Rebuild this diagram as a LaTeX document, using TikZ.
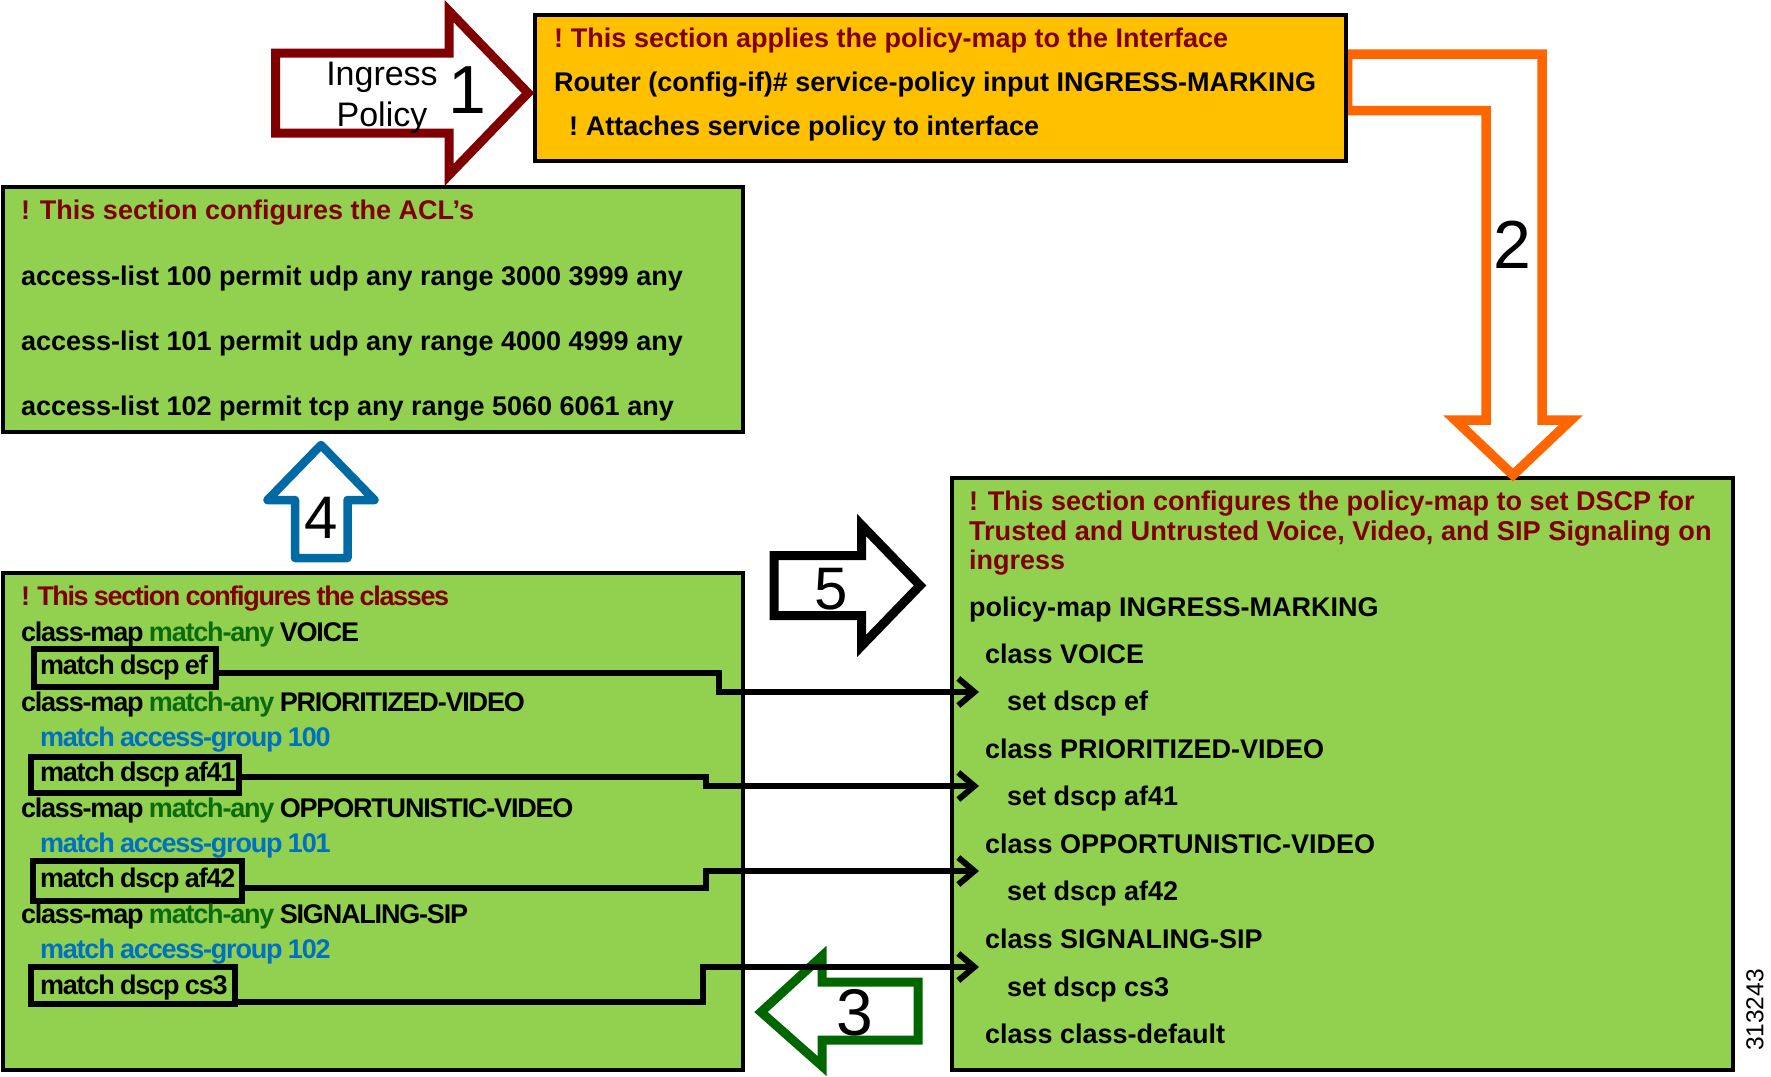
\documentclass[tikz,border=0pt]{standalone}
\usepackage{fontspec}
\setmainfont{Liberation Sans}
\newfontfamily\tightfont{Liberation Sans}[LetterSpace=-4.4,WordSpace=0.85]
\newfontfamily\tighterfont{Liberation Sans}[LetterSpace=-5.0,WordSpace=0.85]
\usetikzlibrary{arrows.meta}
\definecolor{panelgreen}{HTML}{92D050}
\definecolor{panelamber}{HTML}{FFC000}
\definecolor{headred}{HTML}{800000}
\definecolor{arroworange}{HTML}{FF6600}
\definecolor{arrowgreen}{HTML}{006600}
\definecolor{arrowblue}{HTML}{006AA5}
\definecolor{anygreen}{HTML}{0B6B0B}
\definecolor{groupblue}{HTML}{0070C0}
\tikzset{
  panel/.style={draw=black,line width=4pt,inner sep=0pt,outer sep=0pt},
  codeline/.style={anchor=base west,inner sep=0pt,outer sep=0pt,font=\fontsize{27}{32}\selectfont\bfseries},
  tightline/.style={anchor=base west,inner sep=0pt,outer sep=0pt,font=\fontsize{27}{32}\selectfont\tightfont\bfseries},
  headline/.style={codeline,text=headred},
  tighthead/.style={anchor=base west,inner sep=0pt,outer sep=0pt,font=\fontsize{27}{32}\selectfont\tighterfont\bfseries,text=headred},
  groupline/.style={tightline,text=groupblue},
  matchbox/.style={draw=black,line width=6pt,inner xsep=6pt,inner ysep=0pt,outer sep=0pt,
    font=\fontsize{27}{32}\selectfont\tightfont\bfseries,text height=19pt,text depth=6pt},
  bigarrow/.style={line width=#1,fill=white,miter limit=12,line join=miter},
  digit/.style={inner sep=0pt,anchor=base,font=\fontsize{#1}{#1}\selectfont},
  mapline/.style={draw=black,line width=6pt,line join=miter,-{Straight Barb[length=16pt,width=27pt,line width=6pt]}}
}
\newcommand{\anymatch}[1]{class-map \textcolor{anygreen}{match-any} #1}
\newcommand{\boxtext}[3]{\makebox[#1pt][l]{\hspace{#2pt}#3}}
\begin{document}
\begin{tikzpicture}[x=1pt,y=-1pt]
\useasboundingbox[fill=white] (0,0) rectangle (1771,1076);

% panels
\node[panel,fill=panelgreen,minimum width=740pt,minimum height=245pt] (acl) at (372.5,309.5) {};
\node[panel,fill=panelgreen,minimum width=740pt,minimum height=497pt] (classes) at (372.5,821) {};
\node[panel,fill=panelgreen,minimum width=781pt,minimum height=592pt] (policy) at (1342,774) {};

% arrow 2 (orange)
\draw[bigarrow=9.5pt,draw=arroworange] (1347.5,54) -- (1542,54) -- (1542,420) -- (1571,420)
  -- (1513,475) -- (1455,420) -- (1486,420) -- (1486,110.5) -- (1347.5,110.5) -- cycle;
\node[panel,fill=panelamber,minimum width=811pt,minimum height=146pt] (iface) at (940.5,88) {};
% arrow 1 (dark red)
\draw[bigarrow=9pt,draw=headred] (275.5,53) -- (449,53) -- (449,11) -- (528,93)
  -- (449,175) -- (449,133) -- (275.5,133) -- cycle;
% arrow 4 (blue)
\draw[bigarrow=8.5pt,draw=arrowblue,line join=round] (321,445) -- (374.5,500) -- (347.5,500) -- (347.5,558)
  -- (295,558) -- (295,500) -- (267.5,500) -- cycle;
% arrow 5 (black)
\draw[bigarrow=9pt,draw=black] (774,555.5) -- (861.5,555.5) -- (861.5,525) -- (920,585.5)
  -- (861.5,646) -- (861.5,615.5) -- (774,615.5) -- cycle;
% arrow 3 (green)
\draw[bigarrow=9pt,draw=arrowgreen] (918,982) -- (822,982) -- (822,956) -- (761,1012)
  -- (822,1066) -- (822,1040) -- (918,1040) -- cycle;

% interface text
\node[headline] (ifhead) at (554,47) {!\kern-2pt{} This section applies the policy-map to the Interface};
\node[codeline] (ifcmd) at (554,91) {Router (config-if)\# service-policy input INGRESS-MARKING};
\node[codeline] (ifnote) at (569,135) {!\kern-2pt{} Attaches service policy to interface};

% ACL text
\node[headline] (aclhead) at (21,219) {! This section configures the ACL’s};
\node[codeline] (acl100) at (21,285) {access-list 100 permit udp any range 3000 3999 any};
\node[codeline] (acl101) at (21,350) {access-list 101 permit udp any range 4000 4999 any};
\node[codeline] (acl102) at (21,415) {access-list 102 permit tcp any range 5060 6061 any};

% classes text
\node[tighthead] (clhead) at (21,605) {! This section configures the classes};
\node[tightline] (cm1) at (21,641) {\anymatch{VOICE}};
\node[matchbox,minimum height=38pt] (mef) at (125,668) {\boxtext{170}{0}{match dscp ef}};
\node[tightline] (cm2) at (21,711) {\anymatch{PRIORITIZED-VIDEO}};
\node[groupline] (ag1) at (40,746) {match access-group 100};
\node[matchbox,minimum height=36pt] (maf41) at (135,775) {\boxtext{196}{3}{match dscp af41}};
\node[tightline] (cm3) at (21,817) {\anymatch{OPPORTUNISTIC-VIDEO}};
\node[groupline] (ag2) at (40,852) {match access-group 101};
\node[matchbox,minimum height=40pt] (maf42) at (137.5,881) {\boxtext{197}{1}{match dscp af42}};
\node[tightline] (cm4) at (21,923) {\anymatch{SIGNALING-SIP}};
\node[groupline] (ag3) at (40,958) {match access-group 102};
\node[matchbox,minimum height=37pt,text height=23pt] (mcs3) at (133,985.5) {\boxtext{192}{3}{match dscp cs3}};

% policy text
\node[headline] (ph1) at (969,510) {! This section configures the policy-map to set DSCP for};
\node[headline,font=\fontsize{27.2}{32}\selectfont\bfseries] (ph2) at (969,540) {Trusted and Untrusted Voice, Video, and SIP Signaling on};
\node[headline] (ph3) at (969,569) {ingress};
\node[codeline] (pm) at (969,616) {policy-map INGRESS-MARKING};
\node[codeline] (pc1) at (985,663) {class VOICE};
\node[codeline] (ps1) at (1007,710) {set dscp ef};
\node[codeline] (pc2) at (985,758) {class PRIORITIZED-VIDEO};
\node[codeline] (ps2) at (1007,805.5) {set dscp af41};
\node[codeline] (pc3) at (985,853) {class OPPORTUNISTIC-VIDEO};
\node[codeline] (ps3) at (1007,900) {set dscp af42};
\node[codeline] (pc4) at (985,948) {class SIGNALING-SIP};
\node[codeline] (ps4) at (1007,996) {set dscp cs3};
\node[codeline] (pc5) at (985,1043) {class class-default};

% connector end points at the policy panel
\coordinate (t1) at (979,692);
\coordinate (t2) at (979,786);
\coordinate (t3) at (979,871);
\coordinate (t4) at (979,967);
\draw[mapline] ([yshift=-5pt]mef.east)   -- (719,673)  -- (719,692) -- (t1);
\draw[mapline] ([yshift=-2pt]maf41.east) -- (706,777)  -- (706,786) -- (t2);
\draw[mapline] ([yshift=-7pt]maf42.east) -- (706,888)  -- (706,871) -- (t3);
\draw[mapline] ([yshift=-16.5pt]mcs3.east) -- (703,1002) -- (703,967) -- (t4);

% arrow labels
\node[inner sep=0pt,align=center,font=\fontsize{34}{41}\selectfont] (ing) at (382,97.5) {Ingress\\Policy};
\node[digit=68] (n1) at (467,113) {1};
\node[digit=68] (n2) at (1512,268) {2};
\node[digit=66] (n3) at (855,1035) {3};
\node[digit=60] (n4) at (321,538) {4};
\node[digit=60] (n5) at (831,609) {5};
\node[inner sep=0pt,rotate=90,font=\fontsize{24.5}{28}\selectfont] (figid) at (1755,1010) {313243};
\end{tikzpicture}
\end{document}
